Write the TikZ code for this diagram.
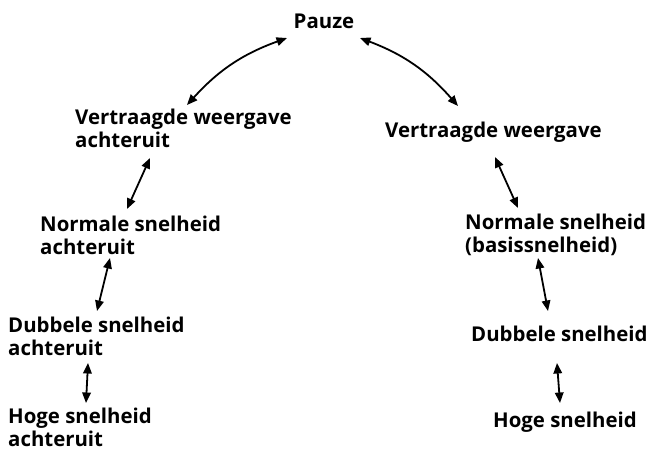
\documentclass[tikz,border=0pt]{standalone}
\usepackage{fontspec}
\setmainfont{Open Sans}
\usetikzlibrary{arrows.meta,calc}
\begin{document}
\begin{tikzpicture}[x=1pt,y=-1pt,
  lbl/.style={font=\bfseries\fontsize{20.4}{23}\selectfont, align=left, inner sep=0pt, anchor=north west},
  arr/.style={{Triangle[length=10.5pt,width=8.5pt]}-{Triangle[length=10.5pt,width=8.5pt]}, line width=1.8pt}]
\useasboundingbox (0,0) rectangle (648,451);
\node[lbl,anchor=north] (pauze) at (324,14) {Pauze};
\node[lbl] (vwa) at (75,109) {Vertraagde weergave\\achteruit};
\node[lbl] (nsa) at (40,216) {Normale snelheid\\achteruit};
\node[lbl] (dsa) at (8,317) {Dubbele snelheid\\achteruit};
\node[lbl] (hsa) at (8,408) {Hoge snelheid\\achteruit};
\node[lbl] (vw) at (385,122) {Vertraagde weergave};
\node[lbl] (nsb) at (465,214) {Normale snelheid\\(basissnelheid)};
\node[lbl] (ds) at (471,326) {Dubbele snelheid};
\node[lbl] (hs) at (493,412) {Hoge snelheid};
\draw[arr] ($(vwa.north west)+(112,-4)$) to[bend left=14] ($(pauze.north)+(-37,24)$);
\draw[arr] ($(pauze.north)+(36,24)$) to[bend left=14] ($(vw.north west)+(73,-16)$);
\draw[arr] ($(vwa.north west)+(75,49)$) -- ($(nsa.north west)+(87,-7)$);
\draw[arr] ($(nsa.north west)+(70,42)$) -- ($(dsa.north west)+(89,-6)$);
\draw[arr] ($(dsa.north west)+(80,46)$) -- ($(hsa.north west)+(78,-5)$);
\draw[arr] ($(vw.north west)+(110,35)$) -- ($(nsb.north west)+(53,-6)$);
\draw[arr] ($(nsb.north west)+(73,44)$) -- ($(ds.north west)+(77,-15)$);
\draw[arr] ($(ds.north west)+(86,37)$) -- ($(hs.north west)+(67,-9)$);
\end{tikzpicture}
\end{document}
